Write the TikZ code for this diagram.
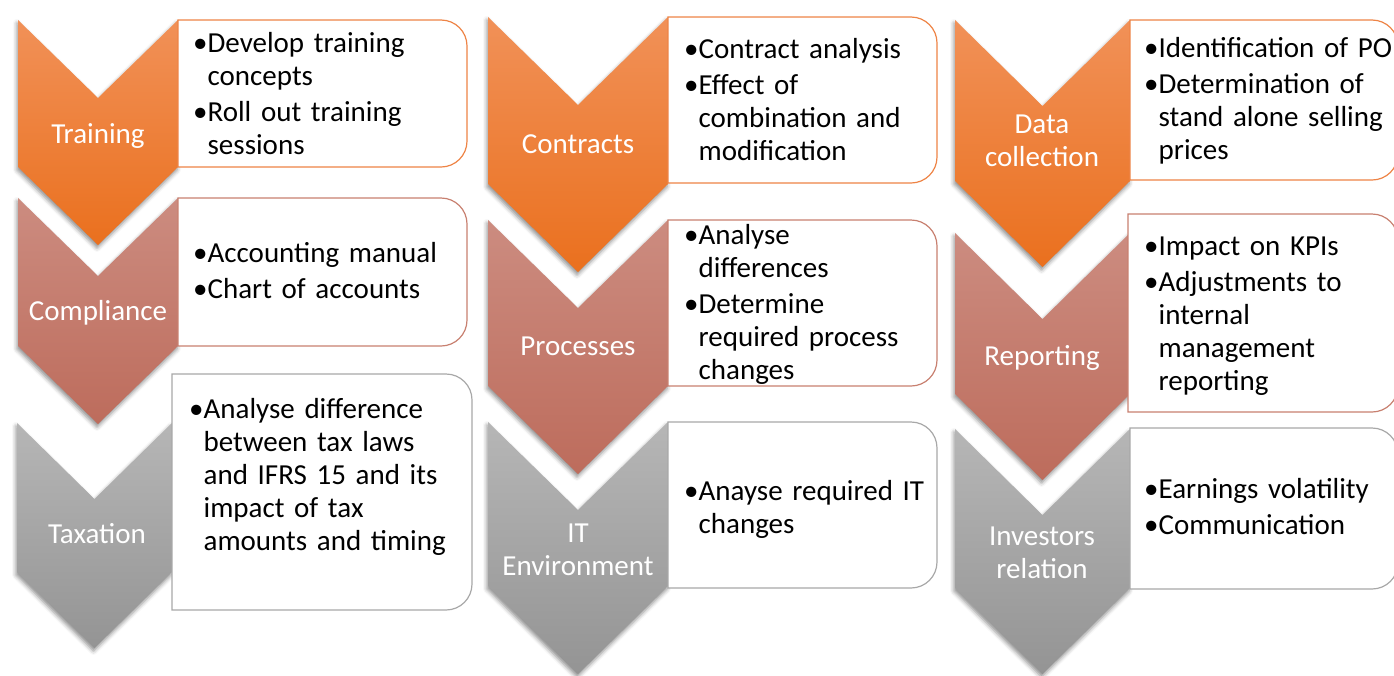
\documentclass[tikz,border=0pt]{standalone}
\usepackage{fontspec}
\setmainfont{Carlito}
\usepackage{xcolor}
\usepackage{tikz}
\usetikzlibrary{shadows.blur}
\definecolor{orangetop}{RGB}{241,145,88}
\definecolor{orangebot}{RGB}{234,112,30}
\definecolor{orangeline}{RGB}{238,132,70}
\definecolor{rusttop}{RGB}{204,140,128}
\definecolor{rustbot}{RGB}{189,108,92}
\definecolor{rustline}{RGB}{200,128,112}
\definecolor{greytop}{RGB}{182,182,182}
\definecolor{greybot}{RGB}{148,148,148}
\definecolor{greyline}{RGB}{168,168,168}

% chevron: left x, width, top, bottom of body, notch depth, style
\newcommand{\chevron}[6]{%
  \path[chev,#6] (#1,-#3) -- ({#1+#2/2},{-#3-#5}) -- ({#1+#2},-#3)
    -- ({#1+#2},-#4) -- ({#1+#2/2},{-#4-#5}) -- (#1,-#4) -- cycle;}
% text frame, square on the left, rounded on the right
\newcommand{\stepbox}[5]{%
  \filldraw[fill=white,draw=#5,line width=1.2pt] (#1,-#3) -- ({#2-26},-#3)
    arc[start angle=90,end angle=0,radius=26] -- (#2,{-#4+26})
    arc[start angle=0,end angle=-90,radius=26] -- (#1,-#4) -- cycle;}
% bullet with hanging indent, one paragraph per item
\newcommand{\bitem}[1]{\setbox0=\hbox{\textbullet}\hangindent=\wd0
  \hangafter=1\noindent\box0 #1\par}

\begin{document}
\begin{tikzpicture}[x=1pt,y=1pt,
  chev/.style={blur shadow={shadow xshift=-1pt,shadow yshift=-3pt,
      shadow blur radius=4pt,shadow opacity=45}},
  orangestep/.style={top color=orangetop,bottom color=orangebot},
  ruststep/.style={top color=rusttop,bottom color=rustbot},
  greystep/.style={top color=greytop,bottom color=greybot},
  steplabel/.style={anchor=base,text=white,align=center,text width=170pt,
      inner sep=0pt,font=\fontsize{29}{33}\selectfont},
  bullets/.style={anchor=base west,text width=300pt,inner sep=0pt,
      font=\fontsize{29}{33}\selectfont,
      execute at begin node={\setlength{\parskip}{3pt}}}]
  \useasboundingbox (0,0) rectangle (1394,-675);

  % first column
  \chevron{18}{160}{20}{167}{78}{orangestep}
  \chevron{18}{160}{198}{346}{78}{ruststep}
  \chevron{17}{155}{423}{572}{76}{greystep}
  \stepbox{178}{467}{20}{167}{orangeline}
  \stepbox{178}{467}{198}{346}{rustline}
  \stepbox{172}{472}{374}{610}{greyline}
  \node[steplabel] (training) at (98,-143) {Training};
  \node[steplabel] (compliance) at (98,-320) {Compliance};
  \node[steplabel] (taxation) at (97,-543) {Taxation};
  \node[bullets] (training-txt) at (193,-52)
    {\bitem{Develop training\newline concepts}\bitem{Roll out training\newline sessions}};
  \node[bullets] (compliance-txt) at (193,-262)
    {\bitem{Accounting manual}\bitem{Chart of accounts}};
  \node[bullets] (taxation-txt) at (189,-418)
    {\bitem{Analyse difference\newline between tax laws\newline and IFRS 15 and its\newline impact of tax\newline amounts and timing}};

  % second column
  \chevron{488}{180}{17}{184}{88}{orangestep}
  \chevron{488}{180}{220}{386}{88}{ruststep}
  \chevron{488}{180}{422}{586}{88}{greystep}
  \stepbox{668}{937}{17}{183}{orangeline}
  \stepbox{668}{937}{220}{386}{rustline}
  \stepbox{668}{937}{422}{588}{greyline}
  \node[steplabel] (contracts) at (578,-153) {Contracts};
  \node[steplabel] (processes) at (578,-355) {Processes};
  \node[steplabel] (it-env) at (578,-542) {IT\\Environment};
  \node[bullets] (contracts-txt) at (684,-58)
    {\bitem{Contract analysis}\bitem{Effect of\newline combination and\newline modification}};
  \node[bullets] (processes-txt) at (684,-244)
    {\bitem{Analyse\newline differences}\bitem{Determine\newline required process\newline changes}};
  \node[bullets] (it-env-txt) at (684,-500)
    {\bitem{Anayse required IT\newline changes}};

  % third column
  \chevron{955}{175}{20}{181}{86}{orangestep}
  \chevron{955}{175}{233}{394}{86}{ruststep}
  \chevron{955}{175}{429}{588}{86}{greystep}
  \stepbox{1130}{1398}{20}{180}{orangeline}
  \stepbox{1128}{1398}{214}{412}{rustline}
  \stepbox{1130}{1398}{428}{589}{greyline}
  \node[steplabel] (data) at (1042,-133) {Data\\collection};
  \node[steplabel] (reporting) at (1042,-365) {Reporting};
  \node[steplabel] (investors) at (1042,-545) {Investors\\relation};
  \node[bullets] (data-txt) at (1144,-57)
    {\bitem{Identification of PO}\bitem{Determination of\newline stand alone selling\newline prices}};
  \node[bullets] (reporting-txt) at (1144,-255)
    {\bitem{Impact on KPIs}\bitem{Adjustments to\newline internal\newline management\newline reporting}};
  \node[bullets] (investors-txt) at (1144,-498)
    {\bitem{Earnings volatility}\bitem{Communication}};
\end{tikzpicture}
\end{document}
